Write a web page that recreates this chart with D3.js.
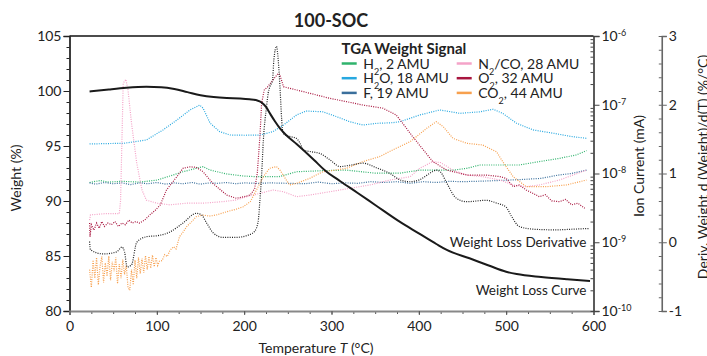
<!DOCTYPE html>
<html>
<head>
<meta charset="utf-8">
<script src="https://cdn.jsdelivr.net/npm/d3@7"></script>
<style>
body { margin:0; background:#fff; }
text { font-family: Lato, "Open Sans", sans-serif; fill:#222; }
</style>
</head>
<body>
<div id="chart"></div>
<script>
// TGA weight curve (%), [temperature, weight]
let weightCurve = [[23,99.95],[45,100.14],[65,100.29],[88,100.38],[105,100.34],[120,100.18],[135,99.9],[150,99.62],[165,99.45],[180,99.36],[195,99.32],[206,99.25],[215,99.14],[220,98.95],[225,98.55],[230,97.9],[235,97.27],[241,96.6],[248,96.0],[260,95.18],[280,93.73],[292,92.82],[310,91.8],[330,90.73],[350,89.64],[378,88.12],[400,87.06],[420,86.09],[432,85.55],[458,84.79],[480,84.14],[500,83.57],[512,83.36],[540,83.09],[570,82.88],[596,82.73]];

// derivative (%/°C), [temperature, deriv]
let weightDeriv = [[23,0.01],[24,-0.11],[39,-0.17],[54,-0.14],[60,-0.07],[63,-0.14],[66,-0.36],[71,-0.33],[77,0.0],[88,0.08],[103,0.1],[115,0.15],[130,0.28],[145,0.42],[151,0.4],[157,0.28],[165,0.13],[176,0.07],[190,0.07],[206,0.11],[212,0.16],[216,0.3],[218,0.61],[220,0.98],[222,1.49],[225.6,1.97],[227.5,2.17],[229.4,2.26],[232.5,2.36],[234,2.65],[237,2.85],[239,2.65],[241,2.26],[243,1.78],[244.6,1.58],[252,1.54],[260,1.51],[264,1.44],[268,1.34],[275,1.32],[287,1.29],[298,1.2],[310,1.1],[321,1.12],[336,1.15],[352,1.08],[367,1.0],[378,0.91],[390,0.88],[401,0.91],[416,1.03],[420,1.05],[425,1.02],[432,0.86],[443,0.64],[455,0.59],[477,0.61],[489,0.57],[500,0.51],[506,0.38],[515,0.23],[531,0.19],[557,0.18],[576,0.19],[595,0.2]];

// ion currents (mA), [temperature, current]
let h2 = [[23,7.4e-9],[35,7.9e-9],[45,7.5e-9],[60,7.7e-9],[80,7.5e-9],[100,8.0e-9],[115,9.2e-9],[130,1.06e-8],[145,1.19e-8],[153,1.26e-8],[161,1.12e-8],[180,9.85e-9],[199,9.2e-9],[214,8.98e-9],[240,9.0e-9],[260,1.06e-8],[290,1.1e-8],[317,1.12e-8],[350,1.01e-8],[378,1.01e-8],[401,1.12e-8],[440,1.12e-8],[455,1.19e-8],[470,1.33e-8],[515,1.33e-8],[538,1.49e-8],[561,1.66e-8],[580,1.86e-8],[592,2.15e-8]];

let h2o = [[23,2.69e-8],[40,2.72e-8],[62,2.75e-8],[88,3.07e-8],[107,4.3e-8],[123,6.0e-8],[138,8.4e-8],[149,9.9e-8],[153,8.9e-8],[161,5.4e-8],[172,4.06e-8],[184,3.63e-8],[200,3.6e-8],[218,3.63e-8],[233,4.06e-8],[245,5.07e-8],[260,7.1e-8],[271,8.1e-8],[290,7.9e-8],[306,6.7e-8],[321,5.66e-8],[336,5.07e-8],[352,5.37e-8],[370,5.48e-8],[378,5.66e-8],[390,6.35e-8],[401,7.1e-8],[424,8.4e-8],[447,7.5e-8],[470,7.9e-8],[485,8.6e-8],[496,7.5e-8],[512,5.37e-8],[531,4.3e-8],[554,3.85e-8],[576,3.43e-8],[592,3.25e-8]];

let fluorine = [[23,7.3e-9],[30,7.0e-9],[40,7.4e-9],[50,7.1e-9],[60,7.3e-9],[70,6.9e-9],[80,7.3e-9],[90,7.1e-9],[100,7.4e-9],[110,7.0e-9],[120,7.3e-9],[130,7.1e-9],[140,7.4e-9],[150,7.0e-9],[160,7.3e-9],[170,7.2e-9],[180,7.4e-9],[190,7.1e-9],[200,7.3e-9],[215,7.2e-9],[230,7.3e-9],[250,7.2e-9],[270,7.1e-9],[285,7.5e-9],[300,7.1e-9],[315,7.3e-9],[330,7.2e-9],[345,7.6e-9],[360,7.4e-9],[375,7.6e-9],[390,7.2e-9],[405,7.6e-9],[420,7.4e-9],[435,7.7e-9],[450,7.6e-9],[465,7.7e-9],[480,7.8e-9],[500,8.0e-9],[520,8.2e-9],[540,8.5e-9],[560,9.5e-9],[575,1.0e-8],[592,1.12e-8]];

let n2co = [[23,2.1e-9],[24,2.5e-9],[40,2.6e-9],[57,2.6e-9],[58.5,4.1e-9],[61.5,2.05e-7],[64.5,2.34e-7],[67,1.64e-7],[71,5.4e-8],[77,1.41e-8],[83,5.75e-9],[88,4.1e-9],[100,3.7e-9],[115,3.5e-9],[134,3.7e-9],[153,3.7e-9],[176,3.9e-9],[190,4.1e-9],[203,4.6e-9],[218,5.15e-9],[233,5.75e-9],[245,5.43e-9],[260,4.6e-9],[275,4.86e-9],[298,5.43e-9],[321,6.09e-9],[344,6.81e-9],[367,8.04e-9],[390,8.98e-9],[401,1.19e-8],[416,1.49e-8],[425,1.44e-8],[439,1.12e-8],[455,9.5e-9],[473,8.98e-9],[493,8.04e-9],[508,6.81e-9],[523,6.43e-9],[538,6.81e-9],[561,8.04e-9],[592,1.12e-8]];

let o2 = [[23,1.9e-9],[23.5,1.2e-9],[25,1.8e-9],[28,1.5e-9],[31,1.9e-9],[34,1.6e-9],[37,2.0e-9],[40,1.7e-9],[44,1.9e-9],[48,1.8e-9],[52,2.0e-9],[56,1.7e-9],[60,1.9e-9],[64,1.8e-9],[68,2.1e-9],[72,1.9e-9],[76,2.0e-9],[80,1.9e-9],[86,2.1e-9],[92,2.5e-9],[98,2.9e-9],[104,3.5e-9],[111,5.75e-9],[117,7.2e-9],[123,9.0e-9],[130,1.19e-8],[138,1.25e-8],[145,1.23e-8],[153,1.06e-8],[164,7.2e-9],[180,4.86e-9],[191,4.36e-9],[200,4.6e-9],[207,4.86e-9],[212,6.0e-9],[215,1.0e-8],[218,3.4e-8],[220,1.05e-7],[223,1.64e-7],[227,1.83e-7],[233,2.29e-7],[239,2.86e-7],[241,2.71e-7],[245,1.83e-7],[260,1.64e-7],[275,1.47e-7],[298,1.24e-7],[317,1.11e-7],[336,9.9e-8],[359,8.9e-8],[374,7.1e-8],[380,5.7e-8],[393,3.43e-8],[409,1.92e-8],[416,1.49e-8],[432,1.12e-8],[455,9.5e-9],[477,9.5e-9],[493,9.0e-9],[500,8.5e-9],[508,6.43e-9],[515,6.8e-9],[523,5.75e-9],[530,5.2e-9],[538,4.6e-9],[545,4.9e-9],[552,4.0e-9],[561,3.89e-9],[568,4.2e-9],[575,3.5e-9],[582,3.7e-9],[590,3.12e-9]];

let co2 = [[23,4.0e-10],[25,2.2e-10],[27,5.5e-10],[29,3.0e-10],[31,6.0e-10],[33,2.4e-10],[35,4.5e-10],[37,6.2e-10],[39,2.6e-10],[41,5.0e-10],[43,3.2e-10],[45,6.3e-10],[47,2.8e-10],[49,5.2e-10],[51,3.8e-10],[53,6.0e-10],[55,2.5e-10],[57,4.8e-10],[59,3.0e-10],[61,5.6e-10],[63,3.4e-10],[65,4.6e-10],[67,2.2e-10],[69,2.0e-10],[71,4.0e-10],[73,2.4e-10],[75,5.5e-10],[77,3.0e-10],[79,6.0e-10],[81,3.5e-10],[83,5.8e-10],[85,3.6e-10],[87,6.4e-10],[89,4.0e-10],[91,6.2e-10],[93,4.2e-10],[95,6.5e-10],[97,4.4e-10],[99,6.0e-10],[101,4.6e-10],[103,5.3e-10],[106,5.4e-10],[109,6.6e-10],[112,6.2e-10],[115,7.6e-10],[119,8.6e-10],[122,8.0e-10],[126,1.21e-9],[130,1.4e-9],[134,1.68e-9],[140,2.0e-9],[145,2.35e-9],[153,2.49e-9],[160,2.4e-9],[168,2.49e-9],[180,2.78e-9],[190,3.0e-9],[199,3.29e-9],[207,3.89e-9],[214,5.75e-9],[222,8.98e-9],[229,1.19e-8],[237,1.26e-8],[241,1.12e-8],[247,8.5e-9],[252,6.81e-9],[260,7.2e-9],[275,8.5e-9],[290,1.06e-8],[300,1.1e-8],[317,1.19e-8],[336,1.49e-8],[355,1.76e-8],[374,2.33e-8],[390,2.9e-8],[409,4.54e-8],[420,5.66e-8],[428,4.8e-8],[439,3.25e-8],[455,2.75e-8],[473,2.6e-8],[489,2.07e-8],[496,1.49e-8],[508,8.98e-9],[523,6.43e-9],[546,6.43e-9],[569,6.81e-9],[592,8.04e-9]];

// legend: label parts [text, isSubscript] and colour
let legendLeft = [
    {parts:[["H",0],["2",1],[", 2 AMU",0]], color:"#2fb36c", series:h2},
    {parts:[["H",0],["2",1],["O, 18 AMU",0]], color:"#27a8e0", series:h2o},
    {parts:[["F, 19 AMU",0]], color:"#3a6f9c", series:fluorine}
];
let legendRight = [
    {parts:[["N",0],["2",1],["/CO, 28 AMU",0]], color:"#f4a3c8", series:n2co},
    {parts:[["O",0],["2",1],[", 32 AMU",0]], color:"#a8163f", series:o2},
    {parts:[["CO",0],["2",1],[", 44 AMU",0]], color:"#f7a04e", series:co2}
];

let xTicks = [0,100,200,300,400,500,600];
let weightTicks = [80,85,90,95,100,105];
let ionTicks = [1e-10,1e-9,1e-8,1e-7,1e-6];
let derivTicks = [-1,0,1,2,3];

// chart size
let svgWidth = 707;
let svgHeight = 356;
let margin = {top:36, left:69.5};
let width = 524;
let height = 275;

let svg = d3.select("#chart")
.append("svg")
.attr("width", svgWidth)
.attr("height", svgHeight);

let chartGroup = svg.append("g")
.attr("transform", `translate(${margin.left}, ${margin.top})`);

// scales
let xScale = d3.scaleLinear().domain([0,600]).range([0,width]);
let yWeight = d3.scaleLinear().domain([80,105]).range([height,0]);
let yIon = d3.scaleLog().domain([1e-10,1e-6]).range([height,0]);
let yDeriv = d3.scaleLinear().domain([-1,3]).range([height,0]);

function styleAxis(g, color) {
    g.attr("font-family", "Lato, sans-serif").attr("font-size", 14);
    g.selectAll("text").attr("fill", "#222");
    g.selectAll("line").attr("stroke", color);
    g.select(".domain").attr("stroke", color);
}

// top frame line
chartGroup.append("line")
.attr("x1", 0).attr("x2", width)
.attr("y1", 0).attr("y2", 0)
.attr("stroke", "#111").attr("stroke-width", 1.5);

// left weight axis, minor ticks first
chartGroup.append("g")
.call(d3.axisLeft(yWeight).tickValues(d3.range(80,106,1)).tickSize(3).tickFormat(""))
.call(g => styleAxis(g, "#222"));
let leftAxis = chartGroup.append("g")
.call(d3.axisLeft(yWeight).tickValues(weightTicks).tickSize(6).tickPadding(2))
.call(g => styleAxis(g, "#222"));
leftAxis.select(".domain").attr("stroke-width", 1.5);

// bottom axis
chartGroup.append("g")
.attr("transform", `translate(0,${height})`)
.call(d3.axisBottom(xScale).tickValues(d3.range(0,601,25)).tickSize(3).tickFormat(""))
.call(g => styleAxis(g, "#555"));
let bottomAxis = chartGroup.append("g")
.attr("transform", `translate(0,${height})`)
.call(d3.axisBottom(xScale).tickValues(xTicks).tickSize(4).tickPadding(6))
.call(g => styleAxis(g, "#555"));
bottomAxis.select(".domain").attr("stroke", "#888").attr("stroke-width", 2);

// ion current axis (log)
let ionMinor = [];
ionTicks.slice(0,4).forEach(function(d) {
    for (let k = 2; k < 10; k++) ionMinor.push(d * k);
});
chartGroup.append("g")
.attr("transform", `translate(${width},0)`)
.call(d3.axisLeft(yIon).tickValues(ionMinor).tickSize(3).tickFormat(""))
.call(g => styleAxis(g, "#444"));
let ionAxis = chartGroup.append("g")
.attr("transform", `translate(${width},0)`)
.call(d3.axisRight(yIon).tickValues(ionTicks).tickSize(6).tickPadding(2))
.call(g => styleAxis(g, "#444"));
ionAxis.select(".domain").attr("stroke-width", 1.5);
ionAxis.selectAll(".tick text").each(function(d) {
    let t = d3.select(this).text(null);
    t.append("tspan").text("10");
    t.append("tspan").attr("baseline-shift", "super").attr("font-size", 9).text(Math.round(Math.log10(d)));
});

// derivative axis
let derivX = width + 68.3;
chartGroup.append("g")
.attr("transform", `translate(${derivX},0)`)
.call(d3.axisLeft(yDeriv).tickValues(d3.range(-1,3.01,0.2)).tickSize(3).tickFormat(""))
.call(g => styleAxis(g, "#666"));
let derivAxis = chartGroup.append("g")
.attr("transform", `translate(${derivX},0)`)
.call(d3.axisRight(yDeriv).tickValues(derivTicks).tickSize(5).tickPadding(2).tickFormat(d => String(d)))
.call(g => styleAxis(g, "#666"));
derivAxis.select(".domain").attr("stroke-width", 1.5);

// ion current lines (dotted)
let ionLine = d3.line()
.x(d => xScale(d[0]))
.y(d => yIon(d[1]));

legendLeft.concat(legendRight).forEach(function(item) {
    chartGroup.append("path")
    .datum(item.series)
    .attr("d", ionLine)
    .attr("fill", "none")
    .attr("stroke", item.color)
    .attr("stroke-width", 1.2)
    .attr("stroke-dasharray", "1,1.3");
});

// derivative line (dotted black)
chartGroup.append("path")
.datum(weightDeriv)
.attr("d", d3.line().curve(d3.curveMonotoneX).x(d => xScale(d[0])).y(d => yDeriv(d[1])))
.attr("fill", "none")
.attr("stroke", "#222")
.attr("stroke-width", 1.2)
.attr("stroke-dasharray", "1,1.3");

// weight line (solid)
chartGroup.append("path")
.datum(weightCurve)
.attr("d", d3.line().curve(d3.curveMonotoneX).x(d => xScale(d[0])).y(d => yWeight(d[1])))
.attr("fill", "none")
.attr("stroke", "#1a1a1a")
.attr("stroke-width", 2);

// curve captions
chartGroup.append("text")
.attr("x", 517).attr("y", 210.5)
.attr("text-anchor", "end")
.attr("font-size", 13.5)
.text("Weight Loss Derivative");

chartGroup.append("text")
.attr("x", 517).attr("y", 258.5)
.attr("text-anchor", "end")
.attr("font-size", 13.5)
.text("Weight Loss Curve");

// legend
let legendGroup = svg.append("g");
legendGroup.append("text")
.attr("x", 341.5).attr("y", 53.5)
.attr("font-size", 15)
.attr("font-weight", "bold")
.text("TGA Weight Signal");

function drawLegendColumn(items, x0) {
    items.forEach(function(item, i) {
        let yBase = 68.5 + i * 14.7;
        legendGroup.append("line")
        .attr("x1", x0).attr("x2", x0 + 15)
        .attr("y1", yBase - 5).attr("y2", yBase - 5)
        .attr("stroke", item.color)
        .attr("stroke-width", 2.5);
        let t = legendGroup.append("text")
        .attr("x", x0 + 21.5).attr("y", yBase)
        .attr("font-size", 14);
        item.parts.forEach(function(p) {
            let span = t.append("tspan").text(p[0]);
            if (p[1]) span.attr("font-size", 9).attr("baseline-shift", "sub");
        });
    });
}
drawLegendColumn(legendLeft, 341.7);
drawLegendColumn(legendRight, 456.7);

// title and axis labels
svg.append("text")
.attr("x", 331).attr("y", 27)
.attr("text-anchor", "middle")
.attr("font-size", 18)
.attr("font-weight", "bold")
.text("100-SOC");

let xLabel = svg.append("text")
.attr("x", 316).attr("y", 353)
.attr("text-anchor", "middle")
.attr("font-size", 14);
xLabel.append("tspan").text("Temperature ");
xLabel.append("tspan").attr("font-style", "italic").text("T");
xLabel.append("tspan").text(" (°C)");

svg.append("text")
.attr("transform", "translate(21,178) rotate(-90)")
.attr("text-anchor", "middle")
.attr("font-size", 14)
.text("Weight (%)");

svg.append("text")
.attr("transform", "translate(644,166) rotate(-90)")
.attr("text-anchor", "middle")
.attr("font-size", 14)
.text("Ion Current (mA)");

svg.append("text")
.attr("transform", "translate(708,167) rotate(-90)")
.attr("text-anchor", "middle")
.attr("font-size", 14)
.text("Deriv. Weight d (Weight)/d(T) (%/°C)");
</script>
</body>
</html>
